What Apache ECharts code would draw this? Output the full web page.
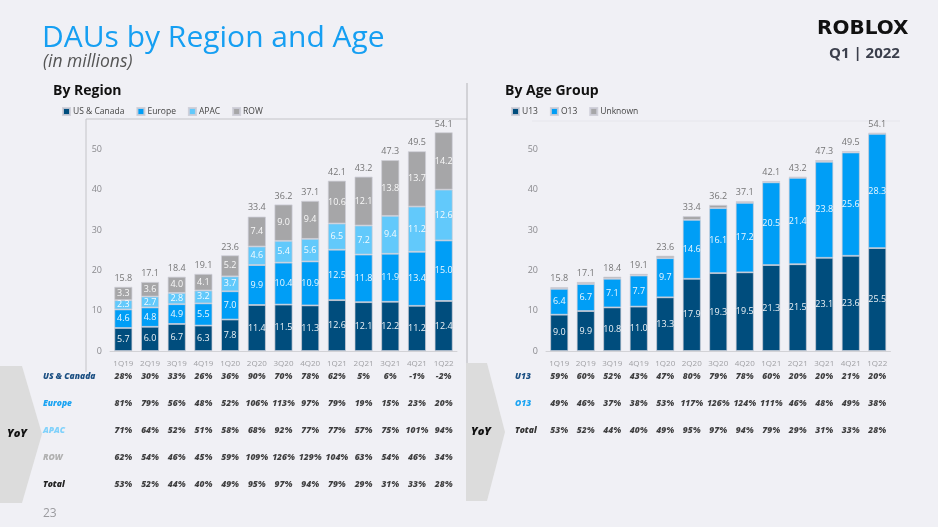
<!DOCTYPE html>
<html><head><meta charset="utf-8">
<script src="https://cdn.jsdelivr.net/npm/echarts@6/dist/echarts.min.js"></script>
<style>html,body{margin:0;padding:0;background:#f0f0f5;}#c{width:938px;height:527px;}</style>
</head><body><div id="c"></div>
<script>
const quarters = ['1Q19','2Q19','3Q19','4Q19','1Q20','2Q20','3Q20','4Q20','1Q21','2Q21','3Q21','4Q21','1Q22'];
const usCanada = [5.7,6.0,6.7,6.3,7.8,11.4,11.5,11.3,12.6,12.1,12.2,11.2,12.4];
const europe   = [4.6,4.8,4.9,5.5,7.0,9.9,10.4,10.9,12.5,11.8,11.9,13.4,15.0];
const apac     = [2.3,2.7,2.8,3.2,3.7,4.6,5.4,5.6,6.5,7.2,9.4,11.2,12.6];
const row      = [3.3,3.6,4.0,4.1,5.2,7.4,9.0,9.4,10.6,12.1,13.8,13.7,14.2];
const totals   = [15.8,17.1,18.4,19.1,23.6,33.4,36.2,37.1,42.1,43.2,47.3,49.5,54.1];
const u13      = [9.0,9.9,10.8,11.0,13.3,17.9,19.3,19.5,21.3,21.5,23.1,23.6,25.5];
const o13      = [6.4,6.7,7.1,7.7,9.7,14.6,16.1,17.2,20.5,21.4,23.8,25.6,28.3];
const unknown  = [0.4,0.5,0.5,0.4,0.6,0.9,0.8,0.4,0.3,0.3,0.4,0.3,0.3];

const regionRows = ['US & Canada','Europe','APAC','ROW','Total'];
const yoyUS     = ['28%','30%','33%','26%','36%','90%','70%','78%','62%','5%','6%','-1%','-2%'];
const yoyEurope = ['81%','79%','56%','48%','52%','106%','113%','97%','79%','19%','15%','23%','20%'];
const yoyAPAC   = ['71%','64%','52%','51%','58%','68%','92%','77%','77%','57%','75%','101%','94%'];
const yoyROW    = ['62%','54%','46%','45%','59%','109%','126%','129%','104%','63%','54%','46%','34%'];
const yoyTotal  = ['53%','52%','44%','40%','49%','95%','97%','94%','79%','29%','31%','33%','28%'];
const ageRows = ['U13','O13','Total'];
const yoyU13    = ['59%','60%','52%','43%','47%','80%','79%','78%','60%','20%','20%','21%','20%'];
const yoyO13    = ['49%','46%','37%','38%','53%','117%','126%','124%','111%','46%','48%','49%','38%'];

const C_US='#004d7d', C_EU='#009ef6', C_AP='#62c9fb', C_ROW='#a6a6a8', C_UNK='#a6a6a8';
const FONT='"Open Sans", Lato, sans-serif';

const chart = echarts.init(document.getElementById('c'));

function barSeries(name, data, color, xi, stack, showLabel){
  return {type:'bar', name, data, xAxisIndex:xi, yAxisIndex:xi, stack, barWidth:18,
    itemStyle:{color, borderColor:'rgba(205,205,215,0.9)', borderWidth:0.8},
    label:{show:showLabel, position:'inside', color:'rgba(255,255,255,0.92)', fontSize:9, fontFamily:FONT,
      formatter:p=>p.value.toFixed(1)},
    emphasis:{disabled:true}, animation:false};
}
function totalSeries(xi){
  return {type:'scatter', name:'tot'+xi, data:totals, xAxisIndex:xi, yAxisIndex:xi, symbolSize:0,
    label:{show:true, position:'top', distance:4, color:'#555', fontSize:9, fontFamily:FONT,
      formatter:p=>p.value.toFixed(1)}, animation:false, silent:true};
}
function tableData(rows){
  const out=[];
  rows.forEach((arr,r)=>arr.forEach((v,c)=>out.push([c,r,v])));
  return out;
}
function tableSeries(xi, rows){
  return {type:'scatter', data:tableData(rows), xAxisIndex:xi, yAxisIndex:xi, symbolSize:0, silent:true, animation:false,
    label:{show:true, position:'inside', formatter:p=>p.value[2], color:'#111', fontSize:8.5,
      fontStyle:'italic', fontWeight:800, fontFamily:FONT}};
}
const rowColorsL = ['#1b4f82','#1aa3f2','#7fd1fb','#b0b0b0','#222'];
const rowColorsR = ['#1b4f82','#1aa3f2','#333'];

const xCat = (gi, show)=>({type:'category', gridIndex:gi, data:quarters,
  axisLine:{show:show, lineStyle:{color:'#d2d2d6'}}, axisTick:{show:false},
  axisLabel:{show:show, interval:0, color:'#a0a0a4', fontSize:8, fontFamily:FONT, margin:9}});
const yVal = (gi)=>({type:'value', gridIndex:gi, min:0, max:57.5, interval:10,
  splitLine:{show:false}, axisLine:{show:false}, axisTick:{show:false},
  axisLabel:{color:'#8a8a8e', fontSize:9, fontFamily:FONT, margin:8, showMaxLabel:false}});
const yTab = (gi, rows, colors)=>({type:'category', gridIndex:gi, data:rows, inverse:true,
  axisLine:{show:false}, axisTick:{show:false},
  axisLabel:{show:true, align:'left', margin: gi===2?67:31, fontSize:8.5, fontStyle:'italic', fontWeight:800, fontFamily:FONT,
    color:(v,i)=>colors[i]}});

const option = {
  backgroundColor:'#f0f0f5',
  animation:false,
  grid:[
    {left:110, right:481, top:119, bottom:176},
    {left:546, right:47.5, top:119, bottom:176},
    {left:110, right:481, top:363.5, height:135},
    {left:546, right:47.5, top:363.5, height:81}
  ],
  xAxis:[xCat(0,true), xCat(1,true), xCat(2,false), xCat(3,false)],
  yAxis:[yVal(0), yVal(1), yTab(2, regionRows, rowColorsL), yTab(3, ageRows, rowColorsR)],
  legend:[
    {left:57, top:102, itemWidth:7, itemHeight:7, itemGap:12, icon:'rect', data:['US & Canada','Europe','APAC','ROW'],
     textStyle:{fontSize:8.5, color:'#444', fontFamily:FONT, padding:[0,0,0,-2]}, selectedMode:false},
    {left:506, top:102, itemWidth:7, itemHeight:7, itemGap:12, icon:'rect', data:['U13','O13','Unknown'],
     textStyle:{fontSize:8.5, color:'#444', fontFamily:FONT, padding:[0,0,0,-2]}, selectedMode:false}
  ],
  series:[
    barSeries('US & Canada', usCanada, C_US, 0, 'r', true),
    barSeries('Europe', europe, C_EU, 0, 'r', true),
    barSeries('APAC', apac, C_AP, 0, 'r', true),
    barSeries('ROW', row, C_ROW, 0, 'r', true),
    totalSeries(0),
    barSeries('U13', u13, C_US, 1, 'a', true),
    barSeries('O13', o13, C_EU, 1, 'a', true),
    barSeries('Unknown', unknown, C_UNK, 1, 'a', false),
    totalSeries(1),
    tableSeries(2, [yoyUS, yoyEurope, yoyAPAC, yoyROW, yoyTotal]),
    tableSeries(3, [yoyU13, yoyO13, yoyTotal])
  ],
  graphic:[
    {type:'line', shape:{x1:86,y1:119,x2:467,y2:119}, style:{stroke:'#c4c4c8', lineWidth:1}},
    {type:'line', shape:{x1:86,y1:119,x2:86,y2:372}, style:{stroke:'#c4c4c8', lineWidth:1}},
    {type:'line', shape:{x1:467,y1:83,x2:467,y2:372}, style:{stroke:'#b4b4b8', lineWidth:1}},
    {type:'line', shape:{x1:532,y1:121,x2:900,y2:121}, style:{stroke:'#e6e6ec', lineWidth:1}},
    {type:'polygon', shape:{points:[[0,366],[22,366],[42,434],[22,503],[0,503]]}, style:{fill:'#dcdcdc'}},
    {type:'polygon', shape:{points:[[466,363],[487,363],[505,432],[487,501],[466,501]]}, style:{fill:'#dcdcdc'}},
    {type:'text', x:7, y:434, style:{text:'YoY', font:'italic 800 11px '+FONT, fill:'#111', textVerticalAlign:'middle'}},
    {type:'text', x:471, y:432, style:{text:'YoY', font:'italic 800 11px '+FONT, fill:'#111', textVerticalAlign:'middle'}},
    {type:'text', x:42, y:23, style:{text:'DAUs by Region and Age', font:'30px '+FONT, fill:'#169ff2'}},
    {type:'text', x:43, y:53, style:{text:'(in millions)', font:'italic 17.5px '+FONT, fill:'#555'}},
    {type:'text', x:53, y:84, style:{text:'By Region', font:'bold 14px '+FONT, fill:'#111'}},
    {type:'text', x:505, y:84, style:{text:'By Age Group', font:'bold 14px '+FONT, fill:'#111'}},
    {type:'text', x:817, y:19, style:{text:'ROBLOX', font:'bold 20px "DejaVu Sans"', fill:'#111'}},
    {type:'text', x:829, y:46, style:{text:'Q1 | 2022', font:'bold 15px '+FONT, fill:'#3b3f4c'}},
    {type:'text', x:43, y:508, style:{text:'23', font:'12px '+FONT, fill:'#9a9a9e'}}
  ]
};
chart.setOption(option);
</script></body></html>
